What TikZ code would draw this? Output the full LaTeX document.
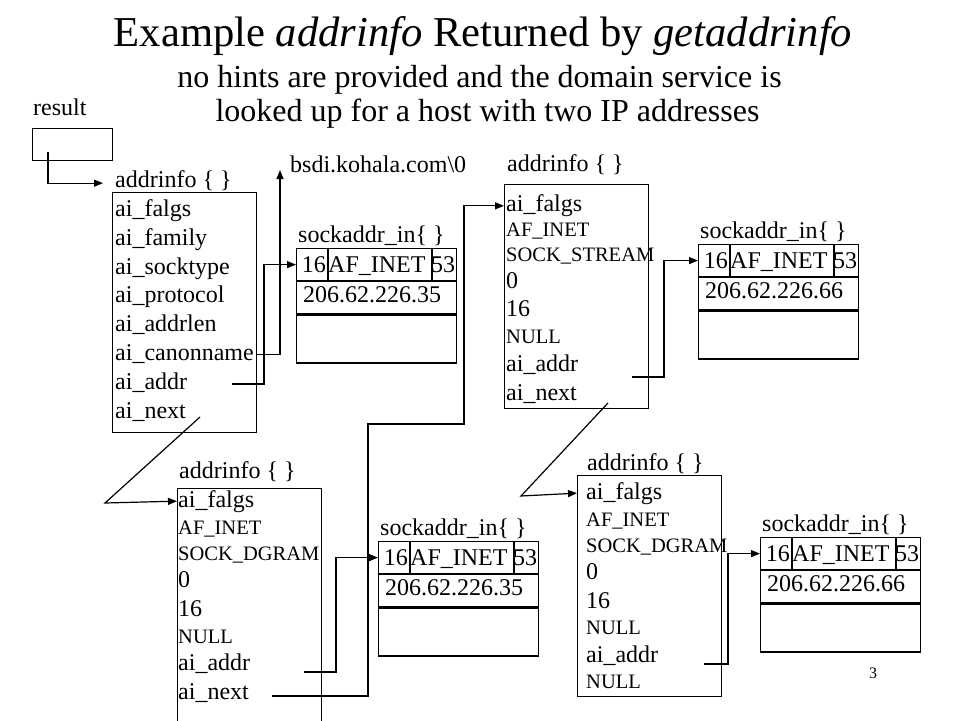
\documentclass[tikz,border=0pt]{standalone}
\usepackage{fontspec}
\setmainfont{Liberation Serif}
\usetikzlibrary{arrows.meta,calc}
\newcommand{\sockbox}[4]{%
  \node[cell,minimum height=32pt] (#1a) at (#2,#3) {};
  \node[cell,minimum height=32pt] (#1b) at (#1a.south west) {};
  \node[cell,minimum height=48pt] (#1c) at (#1b.south west) {};
  \draw[ln] ([xshift=32pt]#1a.north west) -- ([xshift=32pt]#1a.south west);
  \draw[ln] ([xshift=136pt]#1a.north west) -- ([xshift=136pt]#1a.south west);
  \node[txt,anchor=base east] (#1n) at ([xshift=30pt,yshift=-24pt]#1a.north west) {16};
  \node[txt] (#1f) at ([xshift=32pt,yshift=-24pt]#1a.north west) {AF\_INET};
  \node[txt] (#1p) at ([xshift=135pt,yshift=-24pt]#1a.north west) {53};
  \node[txt] (#1i) at ([xshift=7pt,yshift=-21pt]#1b.north west) {#4};
  \node[txt] (#1l) at ([xshift=2pt,yshift=6pt]#1a.north west) {sockaddr\_in\{ \}};
}
\begin{document}
\begin{tikzpicture}[x=1pt,y=-1pt,
  ln/.style={line width=1.2pt},
  arr/.style={line width=1.2pt,-{Triangle[length=9pt,width=7pt]}},
  txt/.style={inner sep=0pt,anchor=base west,font=\fontsize{24}{28}\selectfont},
  sm/.style={inner sep=0pt,anchor=base west,font=\fontsize{20.5}{24}\selectfont},
  cell/.style={draw,line width=1.2pt,inner sep=0pt,anchor=north west,minimum width=160pt},
  abox/.style={draw,line width=1.2pt,inner sep=0pt,anchor=north west,minimum width=144pt}]
\useasboundingbox (0,0) rectangle (960,720);
\clip (0,0) rectangle (960,720);
\fill[white] (0,0) rectangle (960,720);

% titles
\node[inner sep=0pt,anchor=base,font=\fontsize{42.6}{50}\selectfont] (title) at (483,46)
  {Example \textit{addrinfo} Returned by \textit{getaddrinfo}};
\node[inner sep=0pt,anchor=base,font=\fontsize{32}{38}\selectfont] (sub1) at (479.5,87)
  {no hints are provided and the domain service is};
\node[inner sep=0pt,anchor=base,font=\fontsize{32}{38}\selectfont] (sub2) at (487.5,121)
  {looked up for a host with two IP addresses};

% result
\node[txt] (restxt) at (33,115) {result};
\node[draw,line width=1.2pt,inner sep=0pt,anchor=north west,minimum width=80pt,minimum height=32pt] (resbox) at (32,128) {};
\coordinate (rs) at (48,152);

% addrinfo box 1
\node[txt] (lab1) at (115,187) {addrinfo \{ \}};
\node[abox,minimum height=240pt] (box1) at (112,192) {};
\node[txt] (b1r1) at (115,216.5) {ai\_falgs};
\node[txt] (b1r2) at (115,245.3) {ai\_family};
\node[txt] (b1r3) at (115,274.1) {ai\_socktype};
\node[txt] (b1r4) at (115,302.9) {ai\_protocol};
\node[txt] (b1r5) at (115,331.7) {ai\_addrlen};
\node[txt] (b1r6) at (115,360.5) {ai\_canonname};
\node[txt] (b1r7) at (115,389.3) {ai\_addr};
\node[txt] (b1r8) at (115,418.1) {ai\_next};

\node[txt] (bsdi) at (290,172) {bsdi.kohala.com\textbackslash 0};

% addrinfo box 3 (top middle)
\node[txt] (lab3) at (507,171) {addrinfo \{ \}};
\node[abox,minimum height=224pt] (box3) at (504,184) {};
\node[txt] (b3r1) at (506,211.7) {ai\_falgs};
\node[sm]  (b3r2) at (506,236) {AF\_INET};
\node[sm]  (b3r3) at (506,261) {SOCK\_STREAM};
\node[txt] (b3r4) at (506,288) {0};
\node[txt] (b3r5) at (506,316.7) {16};
\node[sm]  (b3r6) at (506,343) {NULL};
\node[txt] (b3r7) at (506,371.7) {ai\_addr};
\node[txt] (b3r8) at (506,400) {ai\_next};

% addrinfo box 2 (bottom left)
\node[txt] (lab2) at (179,478) {addrinfo \{ \}};
\node[abox,minimum height=250pt] (box2) at (177,488) {};
\node[txt] (b2r1) at (178,507) {ai\_falgs};
\node[sm]  (b2r2) at (178,534) {AF\_INET};
\node[sm]  (b2r3) at (178,560) {SOCK\_DGRAM};
\node[txt] (b2r4) at (178,587) {0};
\node[txt] (b2r5) at (178,616) {16};
\node[sm]  (b2r6) at (178,643) {NULL};
\node[txt] (b2r7) at (178,670) {ai\_addr};
\node[txt] (b2r8) at (178,699) {ai\_next};

% addrinfo box 4 (bottom right)
\node[txt] (lab4) at (587,470) {addrinfo \{ \}};
\node[abox,minimum height=221pt] (box4) at (577,475) {};
\node[txt] (b4r1) at (586,499) {ai\_falgs};
\node[sm]  (b4r2) at (586,526) {AF\_INET};
\node[sm]  (b4r3) at (586,552) {SOCK\_DGRAM};
\node[txt] (b4r4) at (586,579) {0};
\node[txt] (b4r5) at (586,608) {16};
\node[sm]  (b4r6) at (586,634) {NULL};
\node[txt] (b4r7) at (586,662) {ai\_addr};
\node[sm]  (b4r8) at (586,688) {NULL};

% sockaddr boxes
\sockbox{sa1}{296}{248}{206.62.226.35}
\sockbox{sa2}{698}{244}{206.62.226.66}
\sockbox{sa3}{378}{541}{206.62.226.35}
\sockbox{sa4}{760}{537}{206.62.226.66}

\node[inner sep=0pt,anchor=base west,font=\fontsize{16}{19}\selectfont] (pg) at (869,678) {3};

% connector points
\coordinate (a1s) at (232,384);
\coordinate (a1m) at (264,384);
\coordinate (n1s) at (200,417);
\coordinate (n1m) at (105,503);
\coordinate (a2s) at (304,672);
\coordinate (a2m) at (336,672);
\coordinate (n2s) at (272,696);
\coordinate (n2m) at (368,696);
\coordinate (n2u) at (368,424);
\coordinate (n2r) at (464,424);
\coordinate (a3s) at (632,377);
\coordinate (a3m) at (664,377);
\coordinate (n3s) at (608,403);
\coordinate (n3m) at (521,496);
\coordinate (a4s) at (704,664);
\coordinate (a4m) at (728,664);

% connectors
\draw[arr] (rs) |- ([xshift=-12pt,yshift=-3pt]lab1.west);
\draw[arr] (b1r6.east -| box1.east) -| ([xshift=-10pt,yshift=2pt]bsdi.base west);
\draw[arr] (a1s) -- (a1m) |- (sa1a.west);
\draw[arr] (n1s) -- (n1m) -- (b2r1.west -| box2.west);
\draw[arr] (a2s) -- (a2m) |- (sa3a.west);
\draw[arr] (n2s) -- (n2m) -- (n2u) -- (n2r) |- (b3r1.west -| box3.west);
\draw[arr] (a3s) -- (a3m) |- (sa2a.west);
\draw[arr] (n3s) -- (n3m) -- (b4r1.west -| box4.west);
\draw[arr] (a4s) -- (a4m) |- (sa4a.west);
\end{tikzpicture}
\end{document}
